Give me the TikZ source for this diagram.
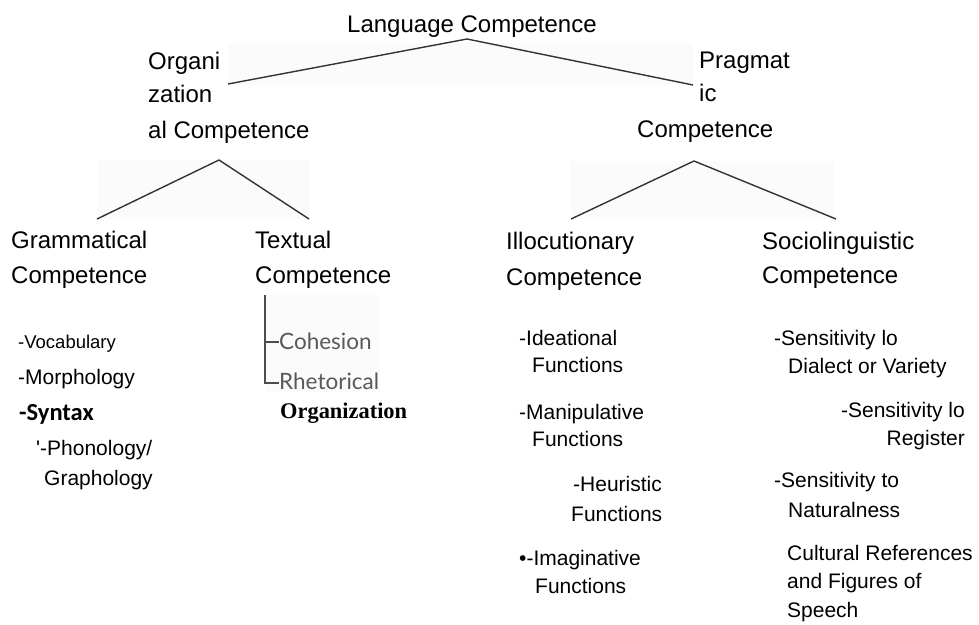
\documentclass[tikz,border=0pt]{standalone}
\usepackage{fontspec}
\setmainfont{Liberation Sans}
\newfontfamily\cohfont{Lato}
\newfontfamily\serifb{Liberation Serif}
\newfontfamily\carl{Carlito}
\begin{document}
\begin{tikzpicture}[x=1pt,y=-1pt,
  big/.style={anchor=base west,inner sep=0pt,font=\fontsize{24}{28}\selectfont},
  sm/.style={anchor=base west,inner sep=0pt,font=\fontsize{21}{25}\selectfont},
  smr/.style={anchor=base east,inner sep=0pt,font=\fontsize{21}{25}\selectfont},
  tiny/.style={anchor=base west,inner sep=0pt,font=\fontsize{18.5}{22}\selectfont},
  coh/.style={anchor=base west,inner sep=0pt,text=black!65,font=\cohfont\fontsize{22.5}{26}\selectfont},
  conn/.style={draw=black!80,line width=1.4pt,line join=round},
  bracket/.style={draw=black!70,line width=1.5pt},
  faint/.style={fill=black!1.5,draw=none}]
\useasboundingbox (0,0) rectangle (979,624);
\fill[white] (0,0) rectangle (979,624);
% faint scan backgrounds
\path[faint] (228,43) rectangle (693,85);
\path[faint] (97,160) rectangle (309,219);
\path[faint] (571,161) rectangle (834,219);
\path[faint] (265,295) rectangle (380,392);
% titles
\node[big] (lang) at (347,32) {Language Competence};
\node[big] (org1) at (148,69) {Organi};
\node[big] (org2) at (148,102) {zation};
\node[big] (org3) at (148,138) {al Competence};
\node[big] (prag1) at (699,68) {Pragmat};
\node[big] (prag2) at (699,101) {ic};
\node[big] (prag3) at (637,137) {Competence};
\node[big] (gram1) at (11,248) {Grammatical};
\node[big] (gram2) at (11,283) {Competence};
\node[big] (text1) at (255,248) {Textual};
\node[big] (text2) at (255,283) {Competence};
\node[big] (illo1) at (506,249) {Illocutionary};
\node[big] (illo2) at (506,285) {Competence};
\node[big] (soc1) at (762,249) {Sociolinguistic};
\node[big] (soc2) at (762,283) {Competence};
% tree lines
\coordinate (langtip) at (467,39);
\coordinate (orgend) at (228,84);
\coordinate (pragend) at (693,85);
\coordinate (orgtip) at (219,160);
\coordinate (gramend) at (97,219);
\coordinate (textend) at (309,219);
\coordinate (pragtip) at (694,161);
\coordinate (illoend) at (571,219);
\coordinate (socend) at (836,219);
\draw[conn] (orgend) -- (langtip) -- (pragend);
\draw[conn] (gramend) -- (orgtip) -- (textend);
\draw[conn] (illoend) -- (pragtip) -- (socend);
% grammatical items
\node[tiny] (voc) at (18,348) {-Vocabulary};
\node[sm] (mor) at (18,384) {-Morphology};
\node[anchor=base west,inner sep=0pt,font=\carl\bfseries\fontsize{24.5}{28}\selectfont] (syn) at (19,420) {-Syntax};
\node[sm] (pho1) at (36,455) {\textquotesingle-Phonology/};
\node[sm] (pho2) at (44,485) {Graphology};
% textual items
\coordinate (brtop) at (265,295);
\coordinate (brmid) at (265,342);
\coordinate (brbot) at (265,383);
\node[coh] (cohn) at (279,349) {Cohesion};
\node[coh] (rhe) at (279,389) {Rhetorical};
\draw[bracket] (brtop) -- (brbot) -- (rhe.west |- brbot);
\draw[bracket] (brmid) -- (cohn.west |- brmid);
\node[anchor=base west,inner sep=0pt,font=\serifb\bfseries\fontsize{22.4}{26}\selectfont] (orgz) at (280,418) {Organization};
% illocutionary items
\node[sm] (ide1) at (519,345) {-Ideational};
\node[sm] (ide2) at (532,372) {Functions};
\node[sm] (man1) at (519,419) {-Manipulative};
\node[sm] (man2) at (532,446) {Functions};
\node[sm] (heu1) at (573,491) {-Heuristic};
\node[sm] (heu2) at (571,521) {Functions};
\node[sm] (ima1) at (519,565) {•-Imaginative};
\node[sm] (ima2) at (535,593) {Functions};
% sociolinguistic items
\node[sm] (sen1a) at (774,345) {-Sensitivity lo};
\node[sm] (sen1b) at (788,373) {Dialect or Variety};
\node[smr] (sen2a) at (965,417) {-Sensitivity lo};
\node[smr] (sen2b) at (965,445) {Register};
\node[sm] (sen3a) at (774,487) {-Sensitivity to};
\node[sm] (sen3b) at (788,517) {Naturalness};
\node[sm] (cul1) at (787,560) {Cultural References};
\node[sm] (cul2) at (787,588) {and Figures of};
\node[sm] (cul3) at (787,617) {Speech};
\end{tikzpicture}
\end{document}
